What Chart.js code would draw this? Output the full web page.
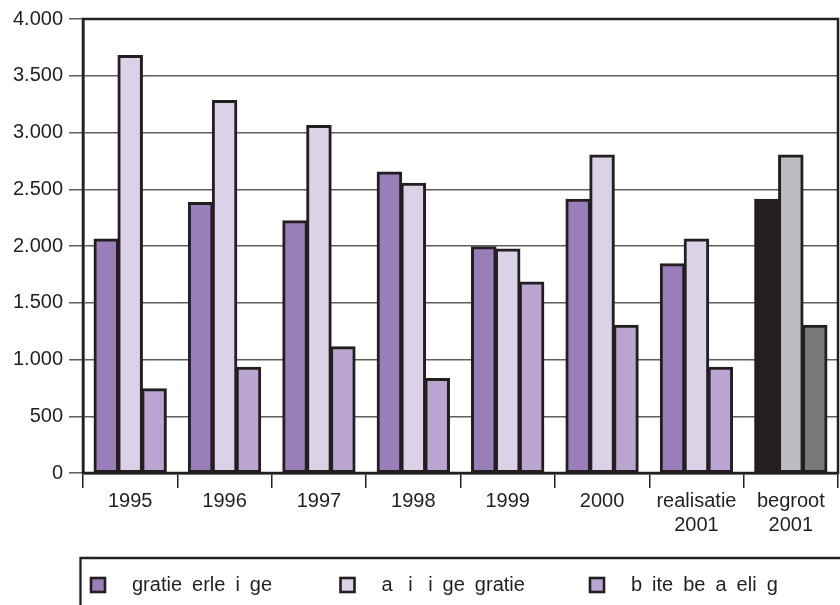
<!DOCTYPE html>
<html>
<head>
<meta charset="utf-8">
<script src="https://cdn.jsdelivr.net/npm/chart.js@4/dist/chart.umd.min.js"></script>
<style>
  html, body { margin: 0; padding: 0; background: #fff; }
  #wrap { width: 840px; height: 605px; position: relative; }
</style>
</head>
<body>
<div id="wrap"><canvas id="c"></canvas></div>
<script>
const categories = ['1995', '1996', '1997', '1998', '1999', '2000', ['realisatie', '2001'], ['begroot', '2001']];

const labelVerleningen = 'gratie\u2002erle\u2002i\u2002ge';
const labelAfwijzingen = 'a\u2002 i\u2002 i\u2002ge\u2002gratie';
const labelBuiten      = 'b\u2002ite\u2002be\u2002a\u2002eli\u2002g';

const verleningen = [2060, 2380, 2220, 2650, 1990, 2410, 1840, 2410];
const afwijzingen = [3675, 3280, 3060, 2550, 1970, 2800, 2060, 2800];
const buiten      = [740, 930, 1110, 830, 1680, 1300, 930, 1300];

const yTicks = [0, 500, 1000, 1500, 2000, 2500, 3000, 3500, 4000];

const INK = '#231f20';
const FONT = "'Liberation Sans', Arial, Helvetica, sans-serif";

// last group (begroot) is drawn in greys
function kleuren(gewoon, begroot) {
  return categories.map((c, i) => i === categories.length - 1 ? begroot : gewoon);
}

function punt(v) {
  return String(v).replace(/\B(?=(\d{3})+(?!\d))/g, '.');
}

const kaderEnLegenda = {
  id: 'kaderEnLegenda',
  afterDatasetsDraw(chart) {
    const { ctx, chartArea: a } = chart;
    ctx.save();
    ctx.strokeStyle = INK;
    ctx.lineWidth = 2.5;
    ctx.strokeRect(a.left, a.top, a.right - a.left, a.bottom - a.top);
    ctx.restore();
  },
  afterDraw(chart) {
    const { ctx, chartArea: a, width, height } = chart;
    const top = chart.scales.x.bottom;
    ctx.save();
    ctx.strokeStyle = INK;
    ctx.lineWidth = 2.3;
    ctx.beginPath();
    ctx.moveTo(a.left - 2.5, height + 2);
    ctx.lineTo(a.left - 2.5, top);
    ctx.lineTo(width + 2, top);
    ctx.stroke();

    ctx.font = '20px ' + FONT;
    ctx.textBaseline = 'middle';
    ctx.textAlign = 'left';
    chart.data.datasets.forEach((ds, i) => {
      const x = a.left + 8 + i * 249.5;
      const y = top + 27;
      ctx.fillStyle = ds.backgroundColor[0];
      ctx.fillRect(x, y - 7, 14, 14);
      ctx.lineWidth = 2.6;
      ctx.strokeStyle = INK;
      ctx.strokeRect(x, y - 7, 14, 14);
      ctx.fillStyle = INK;
      ctx.fillText(ds.label, x + 41, y);
    });
    ctx.restore();
  }
};

const barOpts = {
  borderColor: INK,
  borderWidth: 3,
  borderSkipped: false,
  inflateAmount: 0.8,
  categoryPercentage: 0.76,
  barPercentage: 1.0
};

new Chart(document.getElementById('c'), {
  type: 'bar',
  data: {
    labels: categories,
    datasets: [
      { label: labelVerleningen, data: verleningen, backgroundColor: kleuren('#9a7eba', '#231f20'), ...barOpts },
      { label: labelAfwijzingen, data: afwijzingen, backgroundColor: kleuren('#dbd2e7', '#bcbdc0'), ...barOpts },
      { label: labelBuiten, data: buiten, backgroundColor: kleuren('#b9a5cf', '#77787b'), ...barOpts }
    ]
  },
  options: {
    responsive: true,
    maintainAspectRatio: false,
    animation: false,
    layout: { padding: { top: 19, right: 2, bottom: 47, left: 0 } },
    plugins: {
      legend: { display: false },
      tooltip: { enabled: false }
    },
    scales: {
      x: {
        grid: { offset: true, drawOnChartArea: false, drawTicks: true, tickLength: 15, color: INK, lineWidth: 1.5 },
        border: { display: true, color: INK, width: 2.5 },
        ticks: { color: INK, font: { family: FONT, size: 20 }, padding: 1, maxRotation: 0, autoSkip: false },
        afterFit: s => { s.height = 85; }
      },
      y: {
        min: 0,
        max: yTicks[yTicks.length - 1],
        afterBuildTicks: s => { s.ticks = yTicks.map(v => ({ value: v })); },
        grid: { color: '#5e5e5e', lineWidth: 1.5, tickLength: 14 },
        border: { display: true, color: INK, width: 2.5 },
        ticks: { color: INK, font: { family: FONT, size: 20 }, padding: 6, callback: v => punt(v) },
        afterFit: s => { s.width = 83; }
      }
    }
  },
  plugins: [kaderEnLegenda]
});
</script>
</body>
</html>
